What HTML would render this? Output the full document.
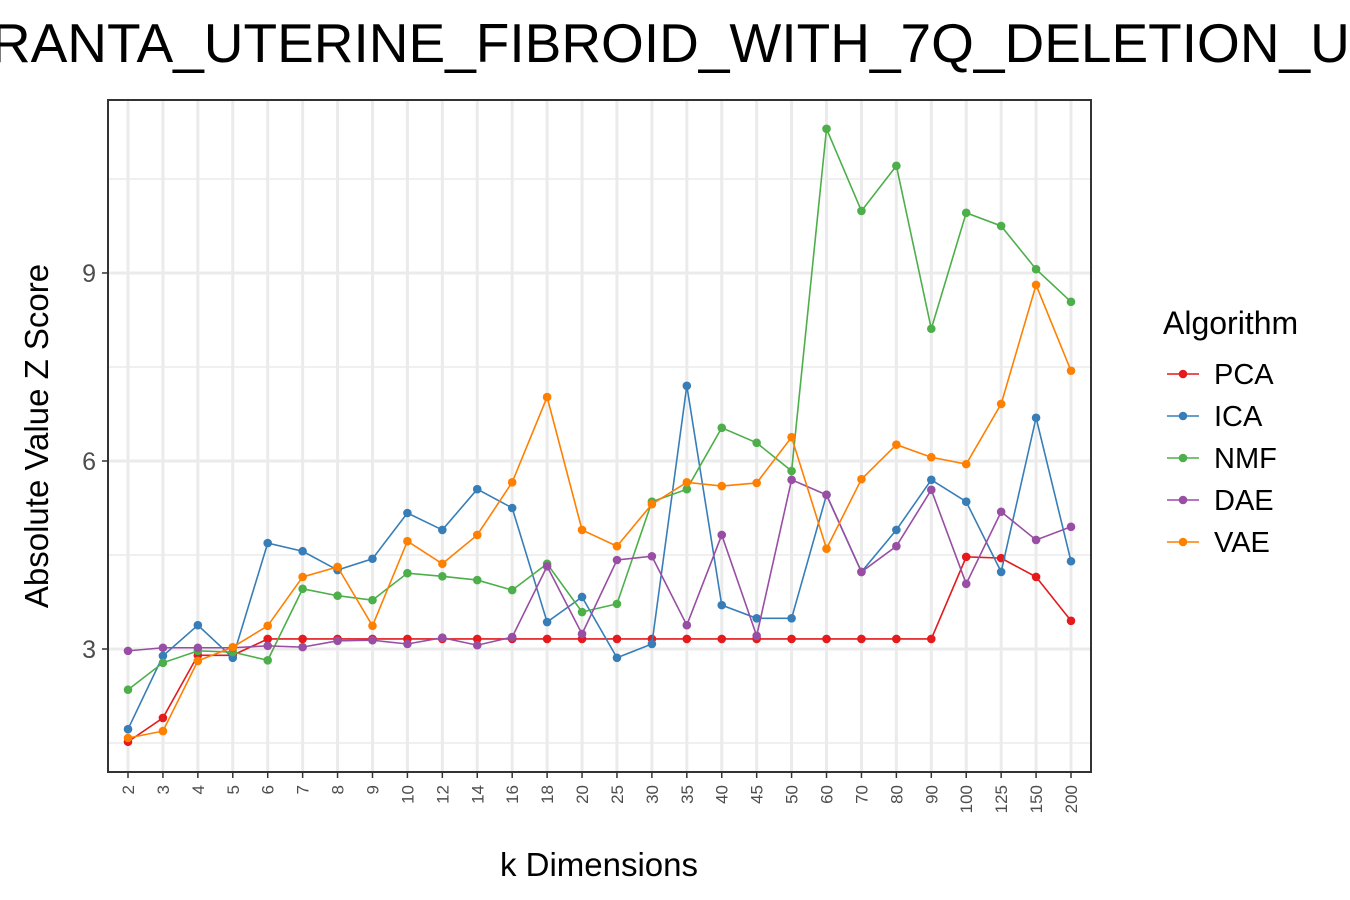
<!DOCTYPE html>
<html><head><meta charset="utf-8"><style>body{margin:0;background:#fff}svg{display:block;font-family:"Liberation Sans",Arial,sans-serif}</style></head>
<body>
<svg id="chart" width="1350" height="900">
<text x="596" y="62" font-size="55" text-anchor="middle" fill="#000">VANHARANTA_UTERINE_FIBROID_WITH_7Q_DELETION_UP</text>
<g id="grid"></g><g id="series"></g><g id="axes"></g>
<text x="599" y="876" font-size="33" text-anchor="middle">k Dimensions</text>
<text transform="translate(48,436) rotate(-90)" font-size="33" text-anchor="middle">Absolute Value Z Score</text>
<g id="legend"></g>
</svg>
<script>
const categories=["2","3","4","5","6","7","8","9","10","12","14","16","18","20","25","30","35","40","45","50","60","70","80","90","100","125","150","200"];
const seriesNames=["PCA","ICA","NMF","DAE","VAE"];
const pca=[1.52,1.90,2.90,2.90,3.16,3.16,3.16,3.16,3.16,3.16,3.16,3.16,3.16,3.16,3.16,3.16,3.16,3.16,3.16,3.16,3.16,3.16,3.16,3.16,4.47,4.45,4.15,3.45];
const ica=[1.72,2.89,3.38,2.86,4.69,4.56,4.26,4.44,5.17,4.90,5.55,5.25,3.43,3.83,2.86,3.08,7.20,3.70,3.49,3.49,5.46,4.23,4.90,5.70,5.35,4.23,6.69,4.40];
const nmf=[2.35,2.78,2.97,2.95,2.82,3.96,3.85,3.78,4.21,4.16,4.10,3.94,4.36,3.59,3.72,5.35,5.55,6.53,6.29,5.84,11.30,9.99,10.71,8.11,9.96,9.75,9.06,8.54];
const dae=[2.97,3.02,3.02,3.02,3.05,3.03,3.13,3.14,3.08,3.18,3.06,3.19,4.32,3.24,4.42,4.48,3.38,4.82,3.21,5.70,5.46,4.23,4.64,5.54,4.04,5.19,4.74,4.95];
const vae=[1.58,1.69,2.81,3.03,3.37,4.15,4.31,3.37,4.72,4.36,4.82,5.66,7.02,4.90,4.64,5.31,5.66,5.60,5.65,6.38,4.60,5.71,6.26,6.06,5.95,6.91,8.81,7.44];
const yTicks=[3,6,9];
const yMinor=[1.5,4.5,7.5,10.5];
const colors=["#e41a1c","#377eb8","#4daf4a","#984ea3","#ff7f00"];
const L=108,R=1091,T=100,B=772;
const n=categories.length;
const x=i=>128+i*(1071-128)/(n-1);
const y=v=>649-(v-3)*62.67;
const NS="http://www.w3.org/2000/svg";
function mk(tag,attrs,parent){const e=document.createElementNS(NS,tag);for(const k in attrs)e.setAttribute(k,attrs[k]);parent.appendChild(e);return e;}
const grid=document.getElementById('grid'),axes=document.getElementById('axes'),ser=document.getElementById('series'),leg=document.getElementById('legend');
yMinor.forEach(v=>{const l=mk('line',{x1:L,x2:R,y1:y(v),y2:y(v),stroke:'#ebebeb','stroke-width':1.5},grid);

});
yTicks.forEach(v=>{const l=mk('line',{x1:L,x2:R,y1:y(v),y2:y(v),stroke:'#ebebeb','stroke-width':3},grid);


const t=mk('text',{x:96,y:y(v)+9,'font-size':25,fill:'#4d4d4d','text-anchor':'end'},axes);t.textContent=v;


const tk=mk('line',{x1:102,x2:L,y1:y(v),y2:y(v),stroke:'#333','stroke-width':1.5},axes);

});
categories.forEach((c,i)=>{const l=mk('line',{x1:x(i),x2:x(i),y1:T,y2:B,stroke:'#ebebeb','stroke-width':3},grid);


const tk=mk('line',{x1:x(i),x2:x(i),y1:B,y2:B+6,stroke:'#333','stroke-width':1.5},axes);


const t=mk('text',{transform:`translate(${x(i)+6},${B+13}) rotate(-90)`,'font-size':17,fill:'#4d4d4d','text-anchor':'end'},axes);t.textContent=c;

});
const fr=mk('rect',{x:L,y:T,width:R-L,height:B-T,fill:'none',stroke:'#333','stroke-width':2},axes);


[pca,ica,nmf,dae,vae].forEach((d,s)=>{const g=mk('g',{},ser);


const p=mk('polyline',{points:d.map((v,i)=>x(i)+','+y(v)).join(' '),fill:'none',stroke:colors[s],'stroke-width':1.6},g);


d.forEach((v,i)=>{const c=mk('circle',{cx:x(i),cy:y(v),r:4.3,fill:colors[s]},g);

});});
const lt=mk('text',{x:1163,y:334,'font-size':32},leg);lt.textContent='Algorithm';


seriesNames.forEach((nm,s)=>{const yy=374+s*42;const g=mk('g',{},leg);


mk('line',{x1:1167,x2:1199,y1:yy,y2:yy,stroke:colors[s],'stroke-width':1.6},g);
mk('circle',{cx:1183,cy:yy,r:4.3,fill:colors[s]},g);
const t=mk('text',{x:1214,y:yy+10,'font-size':29},g);t.textContent=nm;});
</script>
</body></html>
